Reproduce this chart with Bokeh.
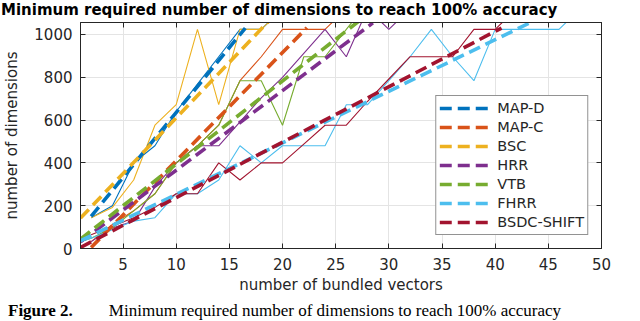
from bokeh.plotting import figure
from bokeh.models import Range1d, LinearAxis, FixedTicker, Legend, LegendItem, Div
from bokeh.layouts import column
from bokeh.embed import file_html
from bokeh.resources import INLINE

# ---------------- data ----------------
names = ["MAP-D", "MAP-C", "BSC", "HRR", "VTB", "FHRR", "BSDC-SHIFT"]
colors = ["#0072BD", "#D95319", "#EDB120", "#7E2F8E", "#77AC30", "#4DBEEE", "#A2142F"]

x_ticks = [5, 10, 15, 20, 25, 30, 35, 40, 45, 50]
y_ticks = [0, 200, 400, 600, 800, 1000]

mapd_x = [2, 4, 6, 8, 10, 12, 14, 16, 18, 20]
mapd_y = [144, 200, 400, 480, 640, 768, 896, 1024, 1024, 1120]

mapc_x = [2, 4, 6, 8, 10, 12, 14, 16, 18, 20, 22, 24, 26]
mapc_y = [32, 112, 176, 256, 400, 480, 576, 784, 896, 1024, 1024, 1024, 1120]

bsc_x = [2, 4, 6, 8, 10, 12, 14, 16, 18, 20]
bsc_y = [144, 192, 320, 576, 672, 1024, 672, 1024, 1024, 1120]

hrr_x = [2, 4, 6, 8, 10, 12, 14, 16, 18, 20, 22, 24, 26, 28, 30, 32]
hrr_y = [32, 96, 128, 288, 400, 480, 480, 592, 704, 800, 912, 1024, 896, 1120, 1024, 1120]

vtb_x = [1, 2, 4, 6, 8, 10, 12, 14, 16, 18, 20, 22, 24, 26, 28]
vtb_y = [32, 48, 96, 176, 256, 400, 480, 576, 784, 784, 576, 896, 896, 1024, 1150]

fhrr_x = [1, 2, 4, 6, 8, 10, 12, 14, 16, 18, 20, 22, 24, 26, 28, 30, 32, 34, 36, 38, 40, 42, 44, 46, 48]
fhrr_y = [32, 48, 88, 128, 144, 256, 256, 320, 480, 400, 480, 480, 480, 672, 672, 784, 896, 1024,
          896, 784, 1024, 1024, 1024, 1024, 1120]

bsdc_x = [2, 4, 6, 8, 10, 12, 14, 16, 18, 20, 22, 24, 26, 28, 30, 32, 34, 36, 38, 40, 42]
bsdc_y = [64, 104, 144, 192, 256, 256, 400, 320, 400, 400, 488, 576, 576, 688, 792, 896, 896, 896,
          1024, 1024, 1120]

# linear fits (dashed): start/end x and fitted value there
fit_x0 = [2, 2, 1, 1, 1, 1, 1]
fit_x1 = [16.5, 22.3, 20, 28.5, 27.5, 44, 40.6]
fit_y0 = [150, 5, 142, 31, 44, 36, 5]
fit_y1 = [1030, 1032, 1130, 1054, 1075, 1072, 1030]

series_x = [mapd_x, mapc_x, bsc_x, hrr_x, vtb_x, fhrr_x, bsdc_x]
series_y = [mapd_y, mapc_y, bsc_y, hrr_y, vtb_y, fhrr_y, bsdc_y]

title_text = "Minimum required number of dimensions to reach 100% accuracy"
xlabel_text = "number of bundled vectors"
ylabel_text = "number of dimensions"
caption_bold = "Figure 2."
caption_text = "Minimum required number of dimensions to reach 100% accuracy"

# ---------------- layout pieces ----------------
DARK = "#262626"
FONT = "DejaVu Sans"

title_div = Div(
    text=('<div style="font-family:\'DejaVu Sans\';font-weight:bold;font-size:15px;'
          'line-height:20px;white-space:nowrap;color:black;padding-left:1px;">'
          + title_text + '</div>'),
    width=640, height=20, margin=(0, 0, 0, 0))

caption_div = Div(
    text=('<div style="font-family:\'Liberation Serif\';font-size:17px;line-height:22px;'
          'white-space:nowrap;color:black;padding-left:8px;">'
          '<b>' + caption_bold + '</b><span style="margin-left:36px;">' + caption_text
          + '</span></div>'),
    width=640, height=21, margin=(0, 0, 0, 0))

p = figure(width=640, height=280, x_range=Range1d(1, 50), y_range=Range1d(0, 1056),
           output_backend="svg", toolbar_location=None, title=None, margin=(0, 0, 0, 0),
           min_border_left=79, min_border_right=39, min_border_top=2, min_border_bottom=52)
p.background_fill_color = "white"
p.border_fill_color = "white"
p.outline_line_color = DARK
p.outline_line_width = 1

p.xaxis.ticker = FixedTicker(ticks=x_ticks)
p.yaxis.ticker = FixedTicker(ticks=y_ticks)
for ax in [p.xaxis[0], p.yaxis[0]]:
    ax.axis_line_color = DARK
    ax.major_tick_line_color = DARK
    ax.major_tick_in = 5
    ax.major_tick_out = 0
    ax.minor_tick_in = 0
    ax.minor_tick_out = 0
    ax.minor_tick_line_color = None
    ax.major_label_text_color = DARK
    ax.major_label_text_font = FONT
    ax.major_label_text_font_size = "15px"
    ax.axis_label_text_font = FONT
    ax.axis_label_text_font_size = "15px"
    ax.axis_label_text_font_style = "normal"
    ax.axis_label_text_color = DARK
p.yaxis.major_label_standoff = 8
p.xaxis.major_label_standoff = 9
p.xaxis.axis_label = xlabel_text
p.yaxis.axis_label = ylabel_text
p.xaxis.axis_label_standoff = 3
p.yaxis.axis_label_standoff = 10

for loc, tk in (("above", x_ticks), ("right", y_ticks)):
    a = LinearAxis(ticker=FixedTicker(ticks=tk), major_label_text_font_size="1px",
                   major_label_text_color=None, major_label_text_alpha=0,
                   major_label_standoff=0, major_tick_in=5, major_tick_out=0,
                   minor_tick_in=0, minor_tick_out=0, minor_tick_line_color=None,
                   axis_line_color=DARK, major_tick_line_color=DARK)
    p.add_layout(a, loc)

p.xgrid.grid_line_color = "#e4e4e4"
p.ygrid.grid_line_color = "#e4e4e4"
p.xgrid.ticker = FixedTicker(ticks=x_ticks)
p.ygrid.ticker = FixedTicker(ticks=y_ticks)

# thin measured curves
for xs, ys, c in zip(series_x, series_y, colors):
    p.line(xs, ys, line_color=c, line_width=1.1)

# dashed fits
items = []
for i, (n, c) in enumerate(zip(names, colors)):
    r = p.line([fit_x0[i], fit_x1[i]], [fit_y0[i], fit_y1[i]], line_color=c,
               line_width=3.6, line_dash="12 6")
    items.append(LegendItem(label=n, renderers=[r]))

legend = Legend(items=items, location="bottom_right", margin=13, padding=3, spacing=1,
                label_height=18, glyph_height=18, glyph_width=52, label_standoff=6,
                label_text_font=FONT, label_text_font_size="14.5px", label_text_color=DARK,
                border_line_color=DARK, border_line_width=1, background_fill_color="white",
                background_fill_alpha=1)
p.add_layout(legend)

layout = column(title_div, p, caption_div, spacing=0, margin=(0, 0, 0, 0))

open("out.html", "w").write(file_html(layout, INLINE))
